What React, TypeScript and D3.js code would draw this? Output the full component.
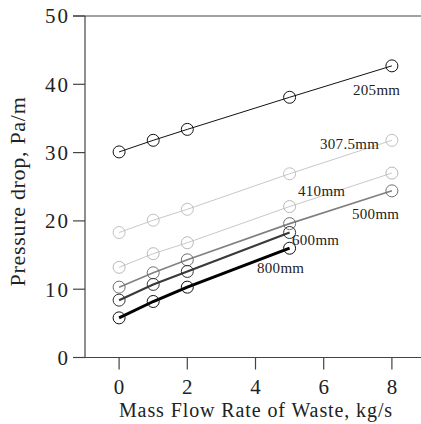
import React from 'react';
import * as d3 from 'd3'

const flowRates = [0, 1, 2, 5, 8]
const p205 = [30.1, 31.8, 33.4, 38.1, 42.7]
const p307 = [18.3, 20.1, 21.7, 26.9, 31.8]
const p410 = [13.2, 15.2, 16.8, 22.1, 27.0]
const p500 = [10.3, 12.4, 14.3, 19.6, 24.4]
const p600 = [8.4, 10.7, 12.6, 18.3]
const p800 = [5.8, 8.2, 10.3, 16.0]
const xTicks = [0, 2, 4, 6, 8]
const yTicks = [0, 10, 20, 30, 40, 50]

type Series = { name: string, values: number[], line: string, marker: string, width: number, lx: number, ly: number }

const series: Series[] = [
  { name: '205mm', values: p205, line: '#111', marker: '#111', width: 1, lx: 353, ly: 95 },
  { name: '307.5mm', values: p307, line: '#c8c8c8', marker: '#c0c0c0', width: 1, lx: 320, ly: 149 },
  { name: '410mm', values: p410, line: '#c8c8c8', marker: '#b8b8b8', width: 1, lx: 298, ly: 196 },
  { name: '500mm', values: p500, line: '#808080', marker: '#707070', width: 1.6, lx: 352, ly: 219 },
  { name: '600mm', values: p600, line: '#3a3a3a', marker: '#333', width: 2.2, lx: 292, ly: 245 },
  { name: '800mm', values: p800, line: '#000', marker: '#111', width: 3, lx: 257, ly: 273 },
]

const App = () => {
  const svgWidth = 421
  const svgHeight = 424
  const left = 85
  const top = 16
  const bottom = 357.5

  const x = d3.scaleLinear().domain([-1, 9]).range([left, left + 341])
  const y = d3.scaleLinear().domain([0, 50]).range([bottom, top])

  const line = d3.line<[number, number]>().x(d => x(d[0])).y(d => y(d[1]))
  const axisColor = '#444'
  const font = '"Liberation Serif", "Times New Roman", serif'

  return (
    <svg width={svgWidth} height={svgHeight} style={{ position: 'absolute', left: 0, top: 0 }} fontFamily={font}>
      {/* axes */}
      <line x1={73} x2={svgWidth} y1={top} y2={top} stroke={axisColor} strokeWidth={1.2} />
      <line x1={73} x2={svgWidth} y1={bottom} y2={bottom} stroke={axisColor} strokeWidth={1.2} />
      <line x1={left} x2={left} y1={top} y2={bottom} stroke={axisColor} strokeWidth={1.2} />

      {yTicks.map(t => <g key={'y' + t} transform={'translate(0,' + y(t) + ')'}>
        <line x1={73} x2={left} stroke={axisColor} strokeWidth={1.2} />
        <text x={70} dy="0.35em" textAnchor="end" fontSize={21} letterSpacing={2} fill="#222">{t}</text>
      </g>)}

      {xTicks.map(t => <g key={'x' + t} transform={'translate(' + x(t) + ',0)'}>
        <line y1={bottom} y2={bottom + 12} stroke={axisColor} strokeWidth={1.2} />
        <text x={1} y={394} textAnchor="middle" fontSize={21} letterSpacing={2} fill="#222">{t}</text>
      </g>)}

      <text x={256} y={416.5} textAnchor="middle" fontSize={20} letterSpacing={0.9} fill="#222">Mass Flow Rate of Waste, kg/s</text>
      <text transform={'translate(25,191.5) rotate(-90)'} textAnchor="middle" fontSize={22} letterSpacing={0.7} fill="#222">Pressure drop, Pa/m</text>

      {series.map(s => {
        const pts: [number, number][] = s.values.map((v, i) => [flowRates[i], v])
        return <g key={s.name}>
          <path d={line(pts) || ''} fill="none" stroke={s.line} strokeWidth={s.width} />
          {pts.map((p, i) => <circle key={i} cx={x(p[0])} cy={y(p[1])} r={6} fill="none" stroke={s.marker} strokeWidth={1} />)}
          <text x={s.lx} y={s.ly} fontSize={15} letterSpacing={0.3} fill="#222">{s.name}</text>
        </g>
      })}
    </svg>
  )
}

export default App
